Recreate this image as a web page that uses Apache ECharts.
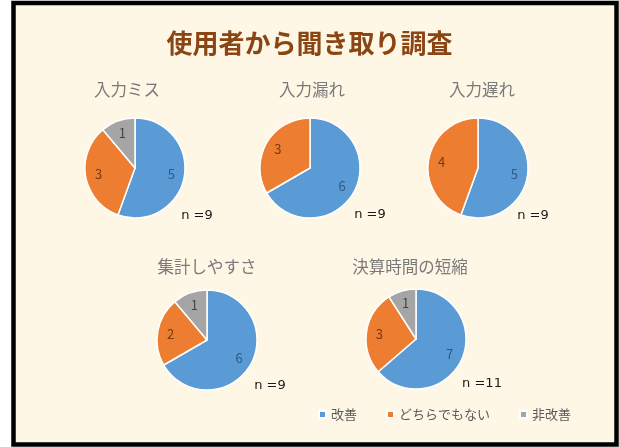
<!DOCTYPE html>
<html><head><meta charset="utf-8">
<script src="https://cdn.jsdelivr.net/npm/echarts@6/dist/echarts.min.js"></script>
<style>html,body{margin:0;padding:0;background:#fff}#c{width:619px;height:447px}</style>
</head><body><div id="c"></div><script>
// ---- data ----
const chartTitle = '使用者から聞き取り調査';
const categories = ['改善', 'どちらでもない', '非改善'];
const pieTitles = ['入力ミス', '入力漏れ', '入力遅れ', '集計しやすさ', '決算時間の短縮'];
const improved = [5, 6, 5, 6, 7];
const neutral = [3, 3, 4, 2, 3];
const notImproved = [1, 0, 0, 1, 1];
const nLabels = ['n =9', 'n =9', 'n =9', 'n =9', 'n =11'];

// ---- layout / style ----
const colors = ['#5B9BD5', '#ED7D31', '#A5A5A5'];
const labelColors = ['#2E5A86', '#7A3A10', '#444444'];
const centers = [[135, 168], [310, 168], [478, 168], [207, 340], [416, 339]];
const titlePos = [[127, 90], [312, 90], [482, 90], [207, 267], [410, 267]];
const nPos = [[197, 216], [370, 215], [533, 216], [270, 386], [482, 384]];
const R = 50;
const font = '"Noto Sans CJK JP", "Noto Sans", sans-serif';
const latinFont = '"DejaVu Sans", sans-serif';

const series = [];
pieTitles.forEach((t, i) => {
  const vals = [improved[i], neutral[i], notImproved[i]];
  const data = categories.map((c, k) => ({
    name: c, value: vals[k],
    itemStyle: { color: colors[k] },
    label: { color: labelColors[k] }
  })).filter(d => d.value > 0);
  series.push({
    type: 'pie', center: centers[i], radius: R, startAngle: 90, clockwise: true,
    label: { show: false }, labelLine: { show: false },
    itemStyle: { borderColor: '#fff', borderWidth: 1.5 },
    emphasis: { disabled: true }, silent: true, animation: false,
    data: data
  });
  series.push({
    type: 'pie', center: centers[i], radius: [R * 0.36, R], startAngle: 90, clockwise: true,
    label: { show: true, position: 'inside', formatter: '{c}', fontSize: 13, fontFamily: font },
    labelLine: { show: false },
    emphasis: { disabled: true }, silent: true, animation: false, z: 3,
    data: data.map(d => ({ name: d.name, value: d.value, label: d.label, itemStyle: { color: 'rgba(0,0,0,0)', borderWidth: 0 } }))
  });
});

const graphic = [
  { type: 'rect', z: -10, silent: true,
    shape: { x: 13.5, y: 3, width: 603, height: 441.5 },
    style: { fill: '#FEF7E6', stroke: '#000', lineWidth: 4.5 } }
];
pieTitles.forEach((t, i) => {
  graphic.push({ type: 'text', x: titlePos[i][0], y: titlePos[i][1], silent: true,
    style: { text: t, align: 'center', verticalAlign: 'middle', textAlign: 'center', textVerticalAlign: 'middle',
      fontSize: 16.5, fill: '#7a7a7a', fontFamily: font } });
  graphic.push({ type: 'text', x: nPos[i][0], y: nPos[i][1], silent: true,
    style: { text: nLabels[i], align: 'center', verticalAlign: 'middle', textAlign: 'center', textVerticalAlign: 'middle',
      fontSize: 13, fill: '#1a1a1a', fontFamily: latinFont } });
});

const chart = echarts.init(document.getElementById('c'), null, { renderer: 'canvas' });
chart.setOption({
  backgroundColor: '#ffffff',
  animation: false,
  title: {
    text: chartTitle, left: 'center', top: 25,
    textStyle: { fontSize: 26, fontWeight: 'bold', color: '#8A4513', fontFamily: font }
  },
  legend: {
    data: categories, left: 318, top: 408, padding: 0,
    icon: 'rect', itemWidth: 7, itemHeight: 7, itemGap: 29,
    selectedMode: false,
    textStyle: { fontSize: 13, color: '#595959', fontFamily: font }
  },
  graphic: graphic,
  series: series
});
</script></body></html>
